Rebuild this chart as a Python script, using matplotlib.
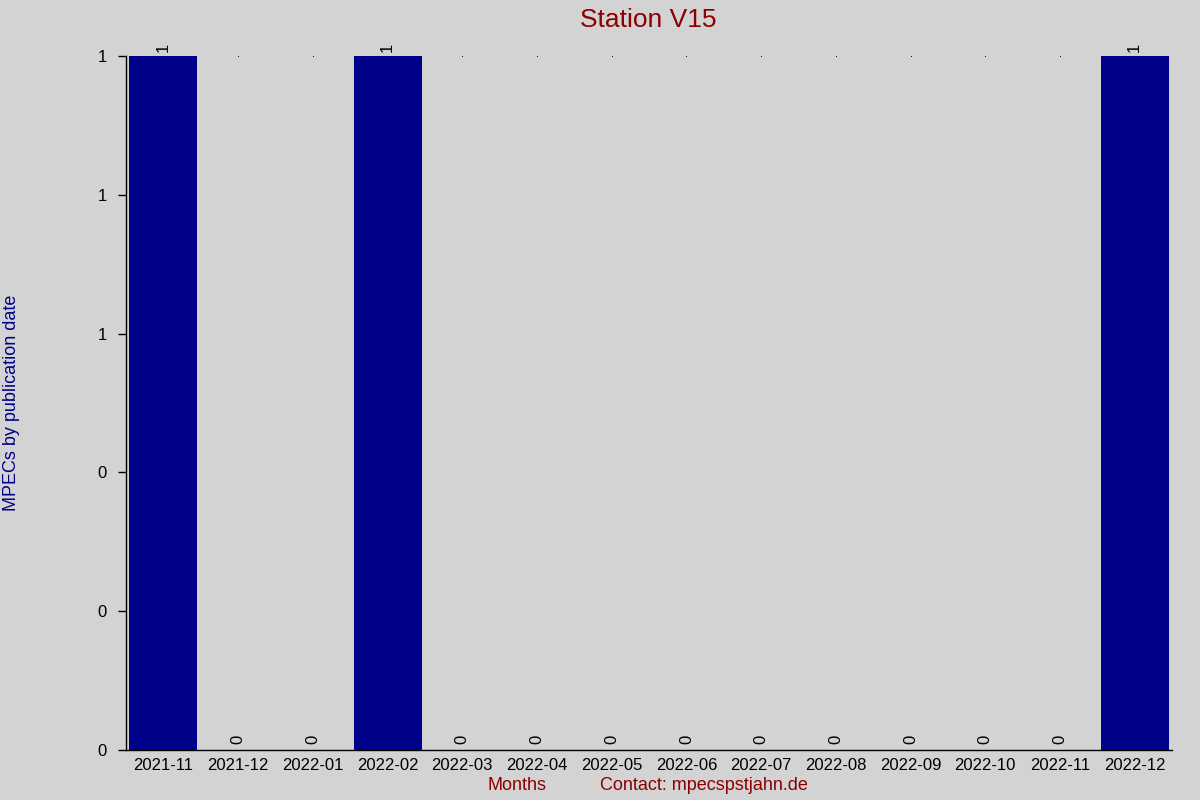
import matplotlib
matplotlib.use("Agg")
import matplotlib.pyplot as plt
import numpy as np

months = ["2021-11", "2021-12", "2022-01", "2022-02", "2022-03", "2022-04", "2022-05",
          "2022-06", "2022-07", "2022-08", "2022-09", "2022-10", "2022-11", "2022-12"]
counts = [1, 0, 0, 1, 0, 0, 0, 0, 0, 0, 0, 0, 0, 1]
yticks = [0, 0.2, 0.4, 0.6, 0.8, 1.0]

plt.rcParams['font.family'] = ['Liberation Sans', 'DejaVu Sans']
bg = '#d3d3d3'
fig = plt.figure(figsize=(12, 8), dpi=100, facecolor=bg)
ax = fig.add_axes([0.105, 0.0625, 0.8717, 0.8675], facecolor=bg)

x = np.arange(len(months))
ax.bar(x, counts, width=0.91, color='#00008b')
ax.set_xlim(-0.5, len(months) - 0.5)
ax.set_ylim(0, 1)

for xi, v in zip(x, counts):
    if v > 0:
        ax.annotate(str(v), (xi, v), xytext=(0, 3), textcoords='offset points',
                    rotation=90, ha='center', va='bottom', fontsize=12, color='black')
    else:
        ax.annotate(str(v), (xi, v), xytext=(0, 4), textcoords='offset points',
                    rotation=90, ha='center', va='bottom', fontsize=12, color='black')
        ax.plot([xi], [1], marker='s', markersize=0.6, markeredgewidth=0,
                color='black', clip_on=False)

ax.set_xticks(x)
ax.set_xticklabels(months, fontsize=12)
ax.tick_params(axis='x', length=0, pad=6)
ax.set_yticks(yticks)
ax.set_yticklabels([f"{v:.0f}" for v in yticks], fontsize=12)
ax.tick_params(axis='y', length=6, width=1, direction='out', pad=8)

for s in ['top', 'right']:
    ax.spines[s].set_visible(False)
ax.spines['left'].set_linewidth(1)
ax.spines['bottom'].set_linewidth(1)

fig.text(0.54, 0.975, "Station V15", ha='center', va='center', fontsize=19, color='#8b0000')
fig.text(0.01, 0.496, "MPECs by publication date", rotation=90, ha='center', va='center',
         fontsize=13, color='#00008b')
fig.text(0.431, 0.0175, "Months", ha='center', va='center', fontsize=13, color='#8b0000')
fig.text(0.587, 0.0175, "Contact: mpecspstjahn.de", ha='center', va='center', fontsize=13,
         color='#8b0000')

fig.savefig("out.png", dpi=100, facecolor=bg)
